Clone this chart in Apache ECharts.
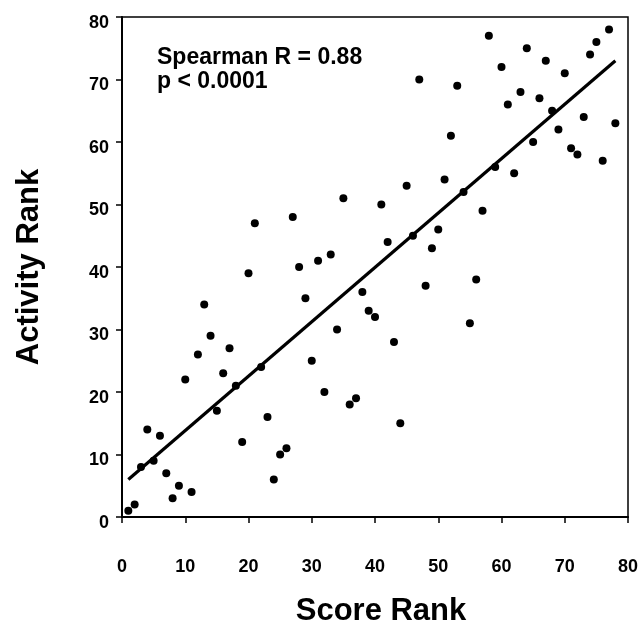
<!DOCTYPE html>
<html>
<head>
<meta charset="utf-8">
<script src="https://cdn.jsdelivr.net/npm/echarts@6/dist/echarts.min.js"></script>
<style>html,body{margin:0;padding:0;background:#fff}#c{width:642px;height:632px}</style>
</head>
<body>
<div id="c"></div>
<script>
// Score rank (x) for each compound
var scoreRank = [1,2,3,4,5,6,7,8,9,10,11,12,13,14,15,16,17,18,19,20,
  21,22,23,24,25,26,27,28,29,30,31,32,33,34,35,36,37,38,39,40,
  41,42,43,44,45,46,47,48,49,50,51,52,53,54,55,56,57,58,59,60,
  61,62,63,64,65,66,67,68,69,70,71,72,73,74,75,76,77,78];
// Activity rank (y)
var activityRank = [1,2,8,14,9,13,7,3,5,22,4,26,34,29,17,23,27,21,12,39,
  47,24,16,6,10,11,48,40,35,25,41,20,42,30,51,18,19,36,33,32,
  50,44,28,15,53,45,70,37,43,46,54,61,69,52,31,38,49,77,56,72,
  66,55,68,75,60,67,73,65,62,71,59,58,64,74,76,57,78,63];
// Fitted line endpoints
var fitX = [1, 78];
var fitY = [6, 73];
var xTicks = [0,10,20,30,40,50,60,70,80];
var yTicks = [0,10,20,30,40,50,60,70,80];
var annotation = ["Spearman R = 0.88", "p < 0.0001"];
var xTitle = "Score Rank";
var yTitle = "Activity Rank";

var pts = scoreRank.map(function(x, i){ return [x, activityRank[i]]; });
var line = fitX.map(function(x, i){ return [x, fitY[i]]; });
var FONT = "'Liberation Sans', Arial, Helvetica, sans-serif";

var chart = echarts.init(document.getElementById('c'), null, {renderer: 'canvas'});
chart.setOption({
  backgroundColor: '#fff',
  animation: false,
  grid: {left: 122, right: 14, top: 17, bottom: 108, show: true, borderColor: '#000', borderWidth: 1.5},
  xAxis: {
    type: 'value', min: xTicks[0], max: xTicks[xTicks.length-1], interval: 10,
    name: xTitle, nameLocation: 'middle', nameGap: 79,
    nameTextStyle: {fontFamily: FONT, fontWeight: 'bold', fontSize: 31, color: '#000', padding: [0,0,0,12]},
    axisLine: {lineStyle: {color: '#000', width: 2}},
    axisTick: {show: true, inside: false, length: 6, lineStyle: {color: '#000', width: 1.5}},
    axisLabel: {margin: 41, fontFamily: FONT, fontWeight: 'bold', fontSize: 18, color: '#000'},
    splitLine: {show: false}
  },
  yAxis: {
    type: 'value', min: yTicks[0], max: yTicks[yTicks.length-1], interval: 10,
    name: yTitle, nameLocation: 'middle', nameGap: 77, nameRotate: 90,
    nameTextStyle: {fontFamily: FONT, fontWeight: 'bold', fontSize: 31, color: '#000'},
    axisLine: {lineStyle: {color: '#000', width: 2}},
    axisTick: {show: true, inside: false, length: 6, lineStyle: {color: '#000', width: 1.5}},
    axisLabel: {margin: 13, fontFamily: FONT, fontWeight: 'bold', fontSize: 18, color: '#000', verticalAlign: 'top', lineHeight: 12},
    splitLine: {show: false}
  },
  graphic: [{
    type: 'text', left: 157, top: 46,
    style: {text: annotation.join('\n'), fontFamily: FONT, fontWeight: 'bold', fontSize: 23, lineHeight: 24, fill: '#000'}
  }],
  series: [{
    type: 'scatter', data: pts, symbol: 'circle', symbolSize: 8,
    itemStyle: {color: '#000', opacity: 1}, z: 3
  }, {
    type: 'line', data: line, showSymbol: false, symbol: 'none',
    lineStyle: {color: '#000', width: 3.2}, z: 4
  }]
});
</script>
</body>
</html>
